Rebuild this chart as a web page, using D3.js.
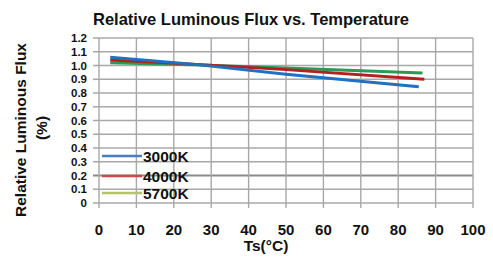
<!DOCTYPE html>
<html><head><meta charset="utf-8">
<script src="https://cdn.jsdelivr.net/npm/d3@7"></script>
<style>
html,body{margin:0;padding:0;background:#fff;}
text{font-family:"Liberation Sans",Arial,sans-serif;font-weight:bold;fill:#111;}
</style></head>
<body><svg id="c" width="493" height="262"></svg>
<script>
const xTicks = [0,10,20,30,40,50,60,70,80,90,100];
const yTicks = [0,0.1,0.2,0.3,0.4,0.5,0.6,0.7,0.8,0.9,1.0,1.1,1.2];
const yTickLabels = ["0","0.1","0.2","0.3","0.4","0.5","0.6","0.7","0.8","0.9","1.0","1.1","1.2"];
const seriesNames = ["3000K","4000K","5700K"];
const temps3000 = [3, 25, 50, 85.5];
const flux3000 = [1.06, 1.01, 0.937, 0.845];
const temps4000 = [3, 25, 50, 87];
const flux4000 = [1.04, 1.01, 0.97, 0.90];
const temps5700 = [3, 25, 50, 86.5];
const flux5700 = [1.02, 1.005, 0.982, 0.945];
const lineColors = ["#2270c0","#b42020","#2a9a55"];
const legendColors = ["#4a7ec4","#d04848","#b4c46a"];

const svg = d3.select("#c");
const x = d3.scaleLinear().domain([0,100]).range([99,473]);
const y = d3.scaleLinear().domain([0,1.2]).range([203,38]);

// title
svg.append("text").attr("x",251).attr("y",25).attr("text-anchor","middle")
  .style("font-size","16.5px").text("Relative Luminous Flux vs. Temperature");

// grid
const g = svg.append("g");
g.selectAll("line.h").data(yTicks).enter().append("line")
  .attr("x1",x(0)-6).attr("x2",x(100))
  .attr("y1",d=>y(d)).attr("y2",d=>y(d))
  .attr("stroke",(d,i)=>i===2?"#8a8a8a":"#a8a8a8").attr("stroke-width",(d,i)=>i===2?1.8:1.4);
g.selectAll("line.v").data(xTicks).enter().append("line")
  .attr("x1",d=>x(d)).attr("x2",d=>x(d))
  .attr("y1",y(1.2)).attr("y2",y(0)+5)
  .attr("stroke","#a8a8a8").attr("stroke-width",1.4);

// y tick labels
svg.selectAll("text.yt").data(yTicks).enter().append("text")
  .attr("x",87).attr("y",d=>y(d)+4).attr("text-anchor","end")
  .style("font-size","11.5px").text((d,i)=>yTickLabels[i]);
// x tick labels
svg.selectAll("text.xt").data(xTicks).enter().append("text")
  .attr("x",d=>x(d)).attr("y",235).attr("text-anchor","middle")
  .style("font-size","15px").text(d=>d);

// axis titles
svg.append("text").attr("x",266).attr("y",251).attr("text-anchor","middle")
  .style("font-size","15.5px").text("Ts(°C)");
svg.append("text").attr("transform","translate(26,130) rotate(-90)").attr("text-anchor","middle")
  .style("font-size","15.5px").text("Relative Luminous Flux");
svg.append("text").attr("transform","translate(47,128) rotate(-90)").attr("text-anchor","middle")
  .style("font-size","15.5px").text("(%)");

// lines
const series = [
  temps3000.map((t,i)=>[t,flux3000[i]]),
  temps4000.map((t,i)=>[t,flux4000[i]]),
  temps5700.map((t,i)=>[t,flux5700[i]])
];
const line = d3.line().x(d=>x(d[0])).y(d=>y(d[1]));
[2,1,0].forEach(i=>{
  svg.append("path").attr("d",line(series[i])).attr("fill","none")
    .attr("stroke",lineColors[i]).attr("stroke-width",3);
});

// legend
const legY = [156,176,193];
seriesNames.forEach((n,i)=>{
  svg.append("line").attr("x1",102).attr("x2",142).attr("y1",legY[i]).attr("y2",legY[i])
    .attr("stroke",legendColors[i]).attr("stroke-width",2.5);
  svg.append("text").attr("x",143).attr("y",legY[i]+5.5).style("font-size","15.5px").text(n);
});
</script></body></html>
